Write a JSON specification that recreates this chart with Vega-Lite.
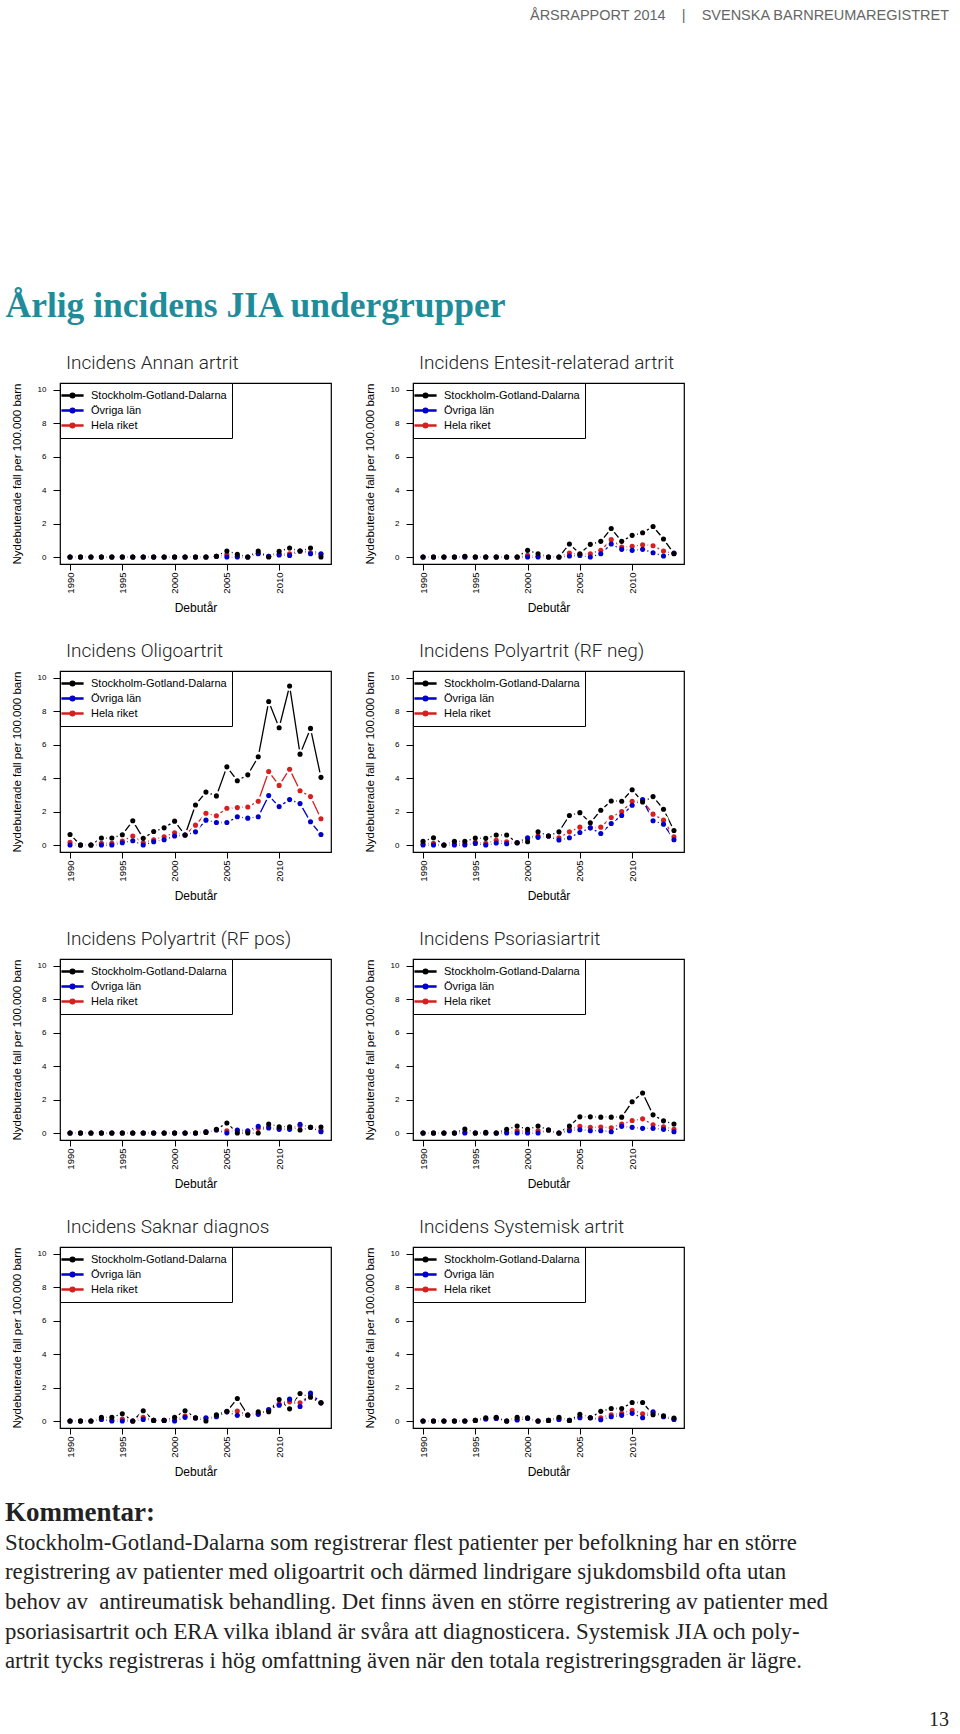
{
"$schema": "https://vega.github.io/schema/vega-lite/v6.json",
"background": "white",
"padding": {"left": 5, "top": 7, "right": 0, "bottom": 0},
"config": {
  "font": "Liberation Sans",
  "view": {"stroke": "black", "strokeWidth": 1.2},
  "axis": {"grid": false, "domain": false, "tickColor": "black", "labelColor": "black", "titleColor": "black", "titleFontWeight": "normal", "labelFont": "Liberation Sans", "titleFont": "Liberation Sans"},
  "axisX": {"labelAngle": 270, "labelFontSize": 9.5, "tickSize": 6, "labelPadding": 2, "titleFontSize": 12, "titlePadding": 9},
  "axisY": {"labelAngle": 0, "labelFontSize": 8, "tickSize": 7, "labelPadding": 7, "titleFontSize": 11.5, "titlePadding": 15},
  "legend": {"orient": "top-left", "offset": 0, "strokeColor": "black", "fillColor": "white", "padding": 5, "labelFontSize": 11, "labelFont": "Liberation Sans", "labelColor": "black", "symbolSize": 144, "symbolStrokeWidth": 2.5, "rowPadding": 0, "labelOffset": 11, "symbolOpacity": 1},
  "title": {"anchor": "start", "frame": "group", "font": "Roboto", "fontWeight": 300, "fontSize": 19, "color": "#222222", "dx": 6, "offset": 10},
  "concat": {"spacing": 31}
},
"datasets": {"d": [
{"p":"an","year":1990,"sgd":0,"ovr":0,"hela":0},{"p":"an","year":1991,"sgd":0,"ovr":0,"hela":0},{"p":"an","year":1992,"sgd":0,"ovr":0,"hela":0},{"p":"an","year":1993,"sgd":0,"ovr":0,"hela":0},{"p":"an","year":1994,"sgd":0,"ovr":0,"hela":0},{"p":"an","year":1995,"sgd":0,"ovr":0,"hela":0},{"p":"an","year":1996,"sgd":0,"ovr":0,"hela":0},{"p":"an","year":1997,"sgd":0,"ovr":0,"hela":0},{"p":"an","year":1998,"sgd":0,"ovr":0,"hela":0},{"p":"an","year":1999,"sgd":0,"ovr":0,"hela":0},{"p":"an","year":2000,"sgd":0,"ovr":0,"hela":0},{"p":"an","year":2001,"sgd":0,"ovr":0,"hela":0},{"p":"an","year":2002,"sgd":0,"ovr":0,"hela":0},{"p":"an","year":2003,"sgd":0,"ovr":0,"hela":0},{"p":"an","year":2004,"sgd":0.05,"ovr":0.05,"hela":0.05},{"p":"an","year":2005,"sgd":0.36,"ovr":0,"hela":0.15},{"p":"an","year":2006,"sgd":0.17,"ovr":0,"hela":0.05},{"p":"an","year":2007,"sgd":0,"ovr":0,"hela":0},{"p":"an","year":2008,"sgd":0.36,"ovr":0.2,"hela":0.22},{"p":"an","year":2009,"sgd":0,"ovr":0.05,"hela":0.04},{"p":"an","year":2010,"sgd":0.34,"ovr":0.13,"hela":0.18},{"p":"an","year":2011,"sgd":0.54,"ovr":0.1,"hela":0.2},{"p":"an","year":2012,"sgd":0.36,"ovr":0.36,"hela":0.36},{"p":"an","year":2013,"sgd":0.54,"ovr":0.2,"hela":0.25},{"p":"an","year":2014,"sgd":0,"ovr":0.2,"hela":0.15},
{"p":"en","year":1990,"sgd":0,"ovr":0,"hela":0},{"p":"en","year":1991,"sgd":0,"ovr":0,"hela":0},{"p":"en","year":1992,"sgd":0,"ovr":0,"hela":0},{"p":"en","year":1993,"sgd":0,"ovr":0,"hela":0},{"p":"en","year":1994,"sgd":0.05,"ovr":0,"hela":0.01},{"p":"en","year":1995,"sgd":0,"ovr":0,"hela":0},{"p":"en","year":1996,"sgd":0,"ovr":0,"hela":0},{"p":"en","year":1997,"sgd":0,"ovr":0,"hela":0},{"p":"en","year":1998,"sgd":0,"ovr":0,"hela":0},{"p":"en","year":1999,"sgd":0,"ovr":0,"hela":0},{"p":"en","year":2000,"sgd":0.4,"ovr":0,"hela":0.1},{"p":"en","year":2001,"sgd":0.2,"ovr":0,"hela":0.05},{"p":"en","year":2002,"sgd":0,"ovr":0,"hela":0},{"p":"en","year":2003,"sgd":0,"ovr":0,"hela":0},{"p":"en","year":2004,"sgd":0.78,"ovr":0.06,"hela":0.24},{"p":"en","year":2005,"sgd":0.2,"ovr":0.1,"hela":0.15},{"p":"en","year":2006,"sgd":0.76,"ovr":0,"hela":0.2},{"p":"en","year":2007,"sgd":0.94,"ovr":0.2,"hela":0.4},{"p":"en","year":2008,"sgd":1.71,"ovr":0.78,"hela":1.04},{"p":"en","year":2009,"sgd":0.94,"ovr":0.46,"hela":0.6},{"p":"en","year":2010,"sgd":1.3,"ovr":0.4,"hela":0.64},{"p":"en","year":2011,"sgd":1.45,"ovr":0.46,"hela":0.74},{"p":"en","year":2012,"sgd":1.83,"ovr":0.26,"hela":0.68},{"p":"en","year":2013,"sgd":1.08,"ovr":0.06,"hela":0.36},{"p":"en","year":2014,"sgd":0.2,"ovr":0.24,"hela":0.22},
{"p":"ol","year":1990,"sgd":0.63,"ovr":0,"hela":0.16},{"p":"ol","year":1991,"sgd":0,"ovr":0,"hela":0},{"p":"ol","year":1992,"sgd":0,"ovr":0,"hela":0},{"p":"ol","year":1993,"sgd":0.42,"ovr":0,"hela":0.1},{"p":"ol","year":1994,"sgd":0.42,"ovr":0,"hela":0.1},{"p":"ol","year":1995,"sgd":0.62,"ovr":0.14,"hela":0.24},{"p":"ol","year":1996,"sgd":1.45,"ovr":0.26,"hela":0.54},{"p":"ol","year":1997,"sgd":0.4,"ovr":0,"hela":0.14},{"p":"ol","year":1998,"sgd":0.81,"ovr":0.2,"hela":0.32},{"p":"ol","year":1999,"sgd":1.03,"ovr":0.32,"hela":0.5},{"p":"ol","year":2000,"sgd":1.43,"ovr":0.54,"hela":0.73},{"p":"ol","year":2001,"sgd":0.6,"ovr":0.6,"hela":0.6},{"p":"ol","year":2002,"sgd":2.4,"ovr":0.79,"hela":1.19},{"p":"ol","year":2003,"sgd":3.17,"ovr":1.49,"hela":1.9},{"p":"ol","year":2004,"sgd":2.94,"ovr":1.35,"hela":1.75},{"p":"ol","year":2005,"sgd":4.68,"ovr":1.35,"hela":2.2},{"p":"ol","year":2006,"sgd":3.85,"ovr":1.69,"hela":2.24},{"p":"ol","year":2007,"sgd":4.2,"ovr":1.61,"hela":2.28},{"p":"ol","year":2008,"sgd":5.28,"ovr":1.69,"hela":2.62},{"p":"ol","year":2009,"sgd":8.59,"ovr":2.96,"hela":4.4},{"p":"ol","year":2010,"sgd":7.02,"ovr":2.3,"hela":3.57},{"p":"ol","year":2011,"sgd":9.52,"ovr":2.72,"hela":4.54},{"p":"ol","year":2012,"sgd":5.44,"ovr":2.48,"hela":3.25},{"p":"ol","year":2013,"sgd":6.98,"ovr":1.39,"hela":2.9},{"p":"ol","year":2014,"sgd":4.05,"ovr":0.63,"hela":1.57},
{"p":"pn","year":1990,"sgd":0.22,"ovr":0,"hela":0.08},{"p":"pn","year":1991,"sgd":0.44,"ovr":0,"hela":0.1},{"p":"pn","year":1992,"sgd":0,"ovr":0,"hela":0},{"p":"pn","year":1993,"sgd":0.22,"ovr":0,"hela":0.08},{"p":"pn","year":1994,"sgd":0.22,"ovr":0,"hela":0.08},{"p":"pn","year":1995,"sgd":0.42,"ovr":0.1,"hela":0.16},{"p":"pn","year":1996,"sgd":0.4,"ovr":0,"hela":0.1},{"p":"pn","year":1997,"sgd":0.6,"ovr":0.12,"hela":0.28},{"p":"pn","year":1998,"sgd":0.6,"ovr":0.08,"hela":0.2},{"p":"pn","year":1999,"sgd":0.14,"ovr":0.14,"hela":0.14},{"p":"pn","year":2000,"sgd":0.2,"ovr":0.44,"hela":0.38},{"p":"pn","year":2001,"sgd":0.79,"ovr":0.46,"hela":0.54},{"p":"pn","year":2002,"sgd":0.54,"ovr":0.54,"hela":0.54},{"p":"pn","year":2003,"sgd":0.79,"ovr":0.3,"hela":0.44},{"p":"pn","year":2004,"sgd":1.77,"ovr":0.44,"hela":0.79},{"p":"pn","year":2005,"sgd":1.94,"ovr":0.75,"hela":1.07},{"p":"pn","year":2006,"sgd":1.33,"ovr":1.03,"hela":1.03},{"p":"pn","year":2007,"sgd":2.08,"ovr":0.69,"hela":1.07},{"p":"pn","year":2008,"sgd":2.64,"ovr":1.29,"hela":1.65},{"p":"pn","year":2009,"sgd":2.62,"ovr":1.77,"hela":2.0},{"p":"pn","year":2010,"sgd":3.31,"ovr":2.38,"hela":2.62},{"p":"pn","year":2011,"sgd":2.58,"ovr":2.72,"hela":2.66},{"p":"pn","year":2012,"sgd":2.9,"ovr":1.45,"hela":1.85},{"p":"pn","year":2013,"sgd":2.14,"ovr":1.25,"hela":1.49},{"p":"pn","year":2014,"sgd":0.87,"ovr":0.32,"hela":0.5},
{"p":"pp","year":1990,"sgd":0,"ovr":0,"hela":0},{"p":"pp","year":1991,"sgd":0,"ovr":0,"hela":0},{"p":"pp","year":1992,"sgd":0,"ovr":0,"hela":0},{"p":"pp","year":1993,"sgd":0,"ovr":0,"hela":0},{"p":"pp","year":1994,"sgd":0,"ovr":0,"hela":0},{"p":"pp","year":1995,"sgd":0,"ovr":0,"hela":0},{"p":"pp","year":1996,"sgd":0,"ovr":0,"hela":0},{"p":"pp","year":1997,"sgd":0,"ovr":0,"hela":0},{"p":"pp","year":1998,"sgd":0,"ovr":0,"hela":0},{"p":"pp","year":1999,"sgd":0,"ovr":0,"hela":0},{"p":"pp","year":2000,"sgd":0,"ovr":0,"hela":0},{"p":"pp","year":2001,"sgd":0,"ovr":0,"hela":0},{"p":"pp","year":2002,"sgd":0,"ovr":0,"hela":0},{"p":"pp","year":2003,"sgd":0.04,"ovr":0.08,"hela":0.07},{"p":"pp","year":2004,"sgd":0.22,"ovr":0.18,"hela":0.19},{"p":"pp","year":2005,"sgd":0.6,"ovr":0,"hela":0.14},{"p":"pp","year":2006,"sgd":0,"ovr":0.18,"hela":0.14},{"p":"pp","year":2007,"sgd":0,"ovr":0.14,"hela":0.1},{"p":"pp","year":2008,"sgd":0,"ovr":0.4,"hela":0.28},{"p":"pp","year":2009,"sgd":0.54,"ovr":0.3,"hela":0.38},{"p":"pp","year":2010,"sgd":0.38,"ovr":0.22,"hela":0.28},{"p":"pp","year":2011,"sgd":0.38,"ovr":0.22,"hela":0.28},{"p":"pp","year":2012,"sgd":0.18,"ovr":0.52,"hela":0.44},{"p":"pp","year":2013,"sgd":0.34,"ovr":0.34,"hela":0.34},{"p":"pp","year":2014,"sgd":0.36,"ovr":0.08,"hela":0.16},
{"p":"ps","year":1990,"sgd":0,"ovr":0,"hela":0},{"p":"ps","year":1991,"sgd":0,"ovr":0,"hela":0},{"p":"ps","year":1992,"sgd":0,"ovr":0,"hela":0},{"p":"ps","year":1993,"sgd":0,"ovr":0,"hela":0},{"p":"ps","year":1994,"sgd":0.24,"ovr":0,"hela":0.06},{"p":"ps","year":1995,"sgd":0,"ovr":0,"hela":0},{"p":"ps","year":1996,"sgd":0.04,"ovr":0,"hela":0.01},{"p":"ps","year":1997,"sgd":0,"ovr":0,"hela":0},{"p":"ps","year":1998,"sgd":0.22,"ovr":0,"hela":0.06},{"p":"ps","year":1999,"sgd":0.42,"ovr":0,"hela":0.14},{"p":"ps","year":2000,"sgd":0.22,"ovr":0,"hela":0.1},{"p":"ps","year":2001,"sgd":0.42,"ovr":0,"hela":0.14},{"p":"ps","year":2002,"sgd":0.18,"ovr":0.18,"hela":0.18},{"p":"ps","year":2003,"sgd":0,"ovr":0,"hela":0},{"p":"ps","year":2004,"sgd":0.42,"ovr":0.14,"hela":0.22},{"p":"ps","year":2005,"sgd":0.97,"ovr":0.2,"hela":0.4},{"p":"ps","year":2006,"sgd":0.97,"ovr":0.14,"hela":0.34},{"p":"ps","year":2007,"sgd":0.95,"ovr":0.14,"hela":0.36},{"p":"ps","year":2008,"sgd":0.95,"ovr":0.08,"hela":0.32},{"p":"ps","year":2009,"sgd":0.95,"ovr":0.4,"hela":0.54},{"p":"ps","year":2010,"sgd":1.87,"ovr":0.34,"hela":0.75},{"p":"ps","year":2011,"sgd":2.4,"ovr":0.28,"hela":0.85},{"p":"ps","year":2012,"sgd":1.09,"ovr":0.28,"hela":0.5},{"p":"ps","year":2013,"sgd":0.73,"ovr":0.22,"hela":0.38},{"p":"ps","year":2014,"sgd":0.54,"ovr":0.08,"hela":0.22},
{"p":"sa","year":1990,"sgd":0,"ovr":0,"hela":0},{"p":"sa","year":1991,"sgd":0,"ovr":0,"hela":0},{"p":"sa","year":1992,"sgd":0,"ovr":0,"hela":0},{"p":"sa","year":1993,"sgd":0.22,"ovr":0.1,"hela":0.12},{"p":"sa","year":1994,"sgd":0.22,"ovr":0,"hela":0.06},{"p":"sa","year":1995,"sgd":0.44,"ovr":0,"hela":0.12},{"p":"sa","year":1996,"sgd":0,"ovr":0,"hela":0},{"p":"sa","year":1997,"sgd":0.62,"ovr":0.1,"hela":0.22},{"p":"sa","year":1998,"sgd":0.04,"ovr":0.04,"hela":0.04},{"p":"sa","year":1999,"sgd":0.04,"ovr":0.04,"hela":0.04},{"p":"sa","year":2000,"sgd":0.22,"ovr":0,"hela":0.08},{"p":"sa","year":2001,"sgd":0.62,"ovr":0.22,"hela":0.3},{"p":"sa","year":2002,"sgd":0.2,"ovr":0.18,"hela":0.18},{"p":"sa","year":2003,"sgd":0,"ovr":0.2,"hela":0.15},{"p":"sa","year":2004,"sgd":0.38,"ovr":0.26,"hela":0.3},{"p":"sa","year":2005,"sgd":0.58,"ovr":0.55,"hela":0.55},{"p":"sa","year":2006,"sgd":1.35,"ovr":0.34,"hela":0.6},{"p":"sa","year":2007,"sgd":0.36,"ovr":0.36,"hela":0.36},{"p":"sa","year":2008,"sgd":0.56,"ovr":0.4,"hela":0.45},{"p":"sa","year":2009,"sgd":0.56,"ovr":0.69,"hela":0.65},{"p":"sa","year":2010,"sgd":1.29,"ovr":0.95,"hela":1.01},{"p":"sa","year":2011,"sgd":0.73,"ovr":1.31,"hela":1.15},{"p":"sa","year":2012,"sgd":1.65,"ovr":0.87,"hela":1.09},{"p":"sa","year":2013,"sgd":1.43,"ovr":1.67,"hela":1.57},{"p":"sa","year":2014,"sgd":1.09,"ovr":1.09,"hela":1.09},
{"p":"sy","year":1990,"sgd":0,"ovr":0,"hela":0},{"p":"sy","year":1991,"sgd":0,"ovr":0,"hela":0},{"p":"sy","year":1992,"sgd":0,"ovr":0,"hela":0},{"p":"sy","year":1993,"sgd":0,"ovr":0,"hela":0},{"p":"sy","year":1994,"sgd":0,"ovr":0,"hela":0},{"p":"sy","year":1995,"sgd":0.04,"ovr":0.04,"hela":0.04},{"p":"sy","year":1996,"sgd":0.2,"ovr":0.12,"hela":0.14},{"p":"sy","year":1997,"sgd":0.22,"ovr":0.16,"hela":0.18},{"p":"sy","year":1998,"sgd":0,"ovr":0,"hela":0},{"p":"sy","year":1999,"sgd":0.22,"ovr":0.06,"hela":0.1},{"p":"sy","year":2000,"sgd":0.2,"ovr":0.16,"hela":0.17},{"p":"sy","year":2001,"sgd":0,"ovr":0,"hela":0},{"p":"sy","year":2002,"sgd":0.04,"ovr":0.04,"hela":0.04},{"p":"sy","year":2003,"sgd":0.22,"ovr":0.1,"hela":0.13},{"p":"sy","year":2004,"sgd":0.04,"ovr":0.04,"hela":0.04},{"p":"sy","year":2005,"sgd":0.4,"ovr":0.2,"hela":0.25},{"p":"sy","year":2006,"sgd":0.2,"ovr":0.2,"hela":0.2},{"p":"sy","year":2007,"sgd":0.58,"ovr":0.08,"hela":0.2},{"p":"sy","year":2008,"sgd":0.75,"ovr":0.26,"hela":0.38},{"p":"sy","year":2009,"sgd":0.75,"ovr":0.34,"hela":0.46},{"p":"sy","year":2010,"sgd":1.11,"ovr":0.46,"hela":0.65},{"p":"sy","year":2011,"sgd":1.11,"ovr":0.2,"hela":0.44},{"p":"sy","year":2012,"sgd":0.38,"ovr":0.56,"hela":0.5},{"p":"sy","year":2013,"sgd":0.32,"ovr":0.26,"hela":0.28},{"p":"sy","year":2014,"sgd":0.18,"ovr":0.1,"hela":0.12}
]},
"spacing": 20,
"resolve": {"scale": {"color": "independent"}},
"vconcat": [
{
 "width": 889, "height": 246, "view": {"stroke": null},
 "data": {"values": []}, "mark": "point",
 "title": {"text": "ÅRSRAPPORT 2014\u00a0\u00a0\u00a0\u00a0|\u00a0\u00a0\u00a0\u00a0SVENSKA BARNREUMAREGISTRET", "anchor": "end", "frame": "group", "font": "Liberation Sans", "fontSize": 14.5, "fontWeight": "normal", "color": "#666666", "offset": 0, "dx": 0}
},
{
 "title": {"text": "Årlig incidens JIA undergrupper", "anchor": "start", "frame": "bounds", "font": "Liberation Serif", "fontWeight": "bold", "fontSize": 35.5, "color": "#1f8c9a", "dx": -5, "offset": 28},
 "spacing": 26,
 "resolve": {"scale": {"color": "independent"}},
 "vconcat": [
  {"resolve": {"scale": {"color": "independent"}}, "hconcat": [
   {"width": 271, "height": 181, "title": {"text": "Incidens Annan artrit"}, "data": {"name": "d"},
    "transform": [{"filter": "datum.p === 'an'"}, {"fold": ["hela", "ovr", "sgd"], "as": ["serie", "v"]}],
    "encoding": {"x": {"field": "year", "type": "quantitative", "scale": {"domain": [1989.04, 2014.96], "nice": false, "zero": false}, "axis": {"values": [1990, 1995, 2000, 2005, 2010], "format": "d", "title": "Debutår"}},
                 "y": {"field": "v", "type": "quantitative", "scale": {"domain": [-0.416, 10.416], "nice": false, "zero": false}, "axis": {"values": [0, 2, 4, 6, 8, 10], "title": "Nydebuterade fall per 100.000 barn"}}},
    "layer": [
     {"mark": {"type": "line", "strokeWidth": 1.3}, "encoding": {"color": {"field": "serie", "type": "nominal", "scale": {"domain": ["sgd", "ovr", "hela"], "range": ["#000000", "#0000CC", "#D81E1E"]}, "legend": {"title": null, "symbolType": "M-1.85,0L1.85,0M-0.3,0A0.3,0.3,0,1,0,0.3,0A0.3,0.3,0,1,0,-0.3,0Z", "labelExpr": "datum.label === 'sgd' ? 'Stockholm-Gotland-Dalarna' : datum.label === 'ovr' ? 'Övriga län' : 'Hela riket'"}}}},
     {"mark": {"type": "circle", "size": 100, "color": "white", "opacity": 1}},
     {"mark": {"type": "circle", "size": 26, "opacity": 1}, "encoding": {"color": {"field": "serie", "type": "nominal", "scale": {"domain": ["sgd", "ovr", "hela"], "range": ["#000000", "#0000CC", "#D81E1E"]}, "legend": {"title": null, "symbolType": "M-1.85,0L1.85,0M-0.3,0A0.3,0.3,0,1,0,0.3,0A0.3,0.3,0,1,0,-0.3,0Z", "labelExpr": "datum.label === 'sgd' ? 'Stockholm-Gotland-Dalarna' : datum.label === 'ovr' ? 'Övriga län' : 'Hela riket'"}}}}
    ]},
   {"width": 271, "height": 181, "title": {"text": "Incidens Entesit-relaterad artrit"}, "data": {"name": "d"},
    "transform": [{"filter": "datum.p === 'en'"}, {"fold": ["hela", "ovr", "sgd"], "as": ["serie", "v"]}],
    "encoding": {"x": {"field": "year", "type": "quantitative", "scale": {"domain": [1989.04, 2014.96], "nice": false, "zero": false}, "axis": {"values": [1990, 1995, 2000, 2005, 2010], "format": "d", "title": "Debutår"}},
                 "y": {"field": "v", "type": "quantitative", "scale": {"domain": [-0.416, 10.416], "nice": false, "zero": false}, "axis": {"values": [0, 2, 4, 6, 8, 10], "title": "Nydebuterade fall per 100.000 barn"}}},
    "layer": [
     {"mark": {"type": "line", "strokeWidth": 1.3}, "encoding": {"color": {"field": "serie", "type": "nominal", "scale": {"domain": ["sgd", "ovr", "hela"], "range": ["#000000", "#0000CC", "#D81E1E"]}, "legend": {"title": null, "symbolType": "M-1.85,0L1.85,0M-0.3,0A0.3,0.3,0,1,0,0.3,0A0.3,0.3,0,1,0,-0.3,0Z", "labelExpr": "datum.label === 'sgd' ? 'Stockholm-Gotland-Dalarna' : datum.label === 'ovr' ? 'Övriga län' : 'Hela riket'"}}}},
     {"mark": {"type": "circle", "size": 100, "color": "white", "opacity": 1}},
     {"mark": {"type": "circle", "size": 26, "opacity": 1}, "encoding": {"color": {"field": "serie", "type": "nominal", "scale": {"domain": ["sgd", "ovr", "hela"], "range": ["#000000", "#0000CC", "#D81E1E"]}, "legend": {"title": null, "symbolType": "M-1.85,0L1.85,0M-0.3,0A0.3,0.3,0,1,0,0.3,0A0.3,0.3,0,1,0,-0.3,0Z", "labelExpr": "datum.label === 'sgd' ? 'Stockholm-Gotland-Dalarna' : datum.label === 'ovr' ? 'Övriga län' : 'Hela riket'"}}}}
    ]}
  ]},
  {"resolve": {"scale": {"color": "independent"}}, "hconcat": [
   {"width": 271, "height": 181, "title": {"text": "Incidens Oligoartrit"}, "data": {"name": "d"},
    "transform": [{"filter": "datum.p === 'ol'"}, {"fold": ["hela", "ovr", "sgd"], "as": ["serie", "v"]}],
    "encoding": {"x": {"field": "year", "type": "quantitative", "scale": {"domain": [1989.04, 2014.96], "nice": false, "zero": false}, "axis": {"values": [1990, 1995, 2000, 2005, 2010], "format": "d", "title": "Debutår"}},
                 "y": {"field": "v", "type": "quantitative", "scale": {"domain": [-0.416, 10.416], "nice": false, "zero": false}, "axis": {"values": [0, 2, 4, 6, 8, 10], "title": "Nydebuterade fall per 100.000 barn"}}},
    "layer": [
     {"mark": {"type": "line", "strokeWidth": 1.3}, "encoding": {"color": {"field": "serie", "type": "nominal", "scale": {"domain": ["sgd", "ovr", "hela"], "range": ["#000000", "#0000CC", "#D81E1E"]}, "legend": {"title": null, "symbolType": "M-1.85,0L1.85,0M-0.3,0A0.3,0.3,0,1,0,0.3,0A0.3,0.3,0,1,0,-0.3,0Z", "labelExpr": "datum.label === 'sgd' ? 'Stockholm-Gotland-Dalarna' : datum.label === 'ovr' ? 'Övriga län' : 'Hela riket'"}}}},
     {"mark": {"type": "circle", "size": 100, "color": "white", "opacity": 1}},
     {"mark": {"type": "circle", "size": 26, "opacity": 1}, "encoding": {"color": {"field": "serie", "type": "nominal", "scale": {"domain": ["sgd", "ovr", "hela"], "range": ["#000000", "#0000CC", "#D81E1E"]}, "legend": {"title": null, "symbolType": "M-1.85,0L1.85,0M-0.3,0A0.3,0.3,0,1,0,0.3,0A0.3,0.3,0,1,0,-0.3,0Z", "labelExpr": "datum.label === 'sgd' ? 'Stockholm-Gotland-Dalarna' : datum.label === 'ovr' ? 'Övriga län' : 'Hela riket'"}}}}
    ]},
   {"width": 271, "height": 181, "title": {"text": "Incidens Polyartrit (RF neg)"}, "data": {"name": "d"},
    "transform": [{"filter": "datum.p === 'pn'"}, {"fold": ["hela", "ovr", "sgd"], "as": ["serie", "v"]}],
    "encoding": {"x": {"field": "year", "type": "quantitative", "scale": {"domain": [1989.04, 2014.96], "nice": false, "zero": false}, "axis": {"values": [1990, 1995, 2000, 2005, 2010], "format": "d", "title": "Debutår"}},
                 "y": {"field": "v", "type": "quantitative", "scale": {"domain": [-0.416, 10.416], "nice": false, "zero": false}, "axis": {"values": [0, 2, 4, 6, 8, 10], "title": "Nydebuterade fall per 100.000 barn"}}},
    "layer": [
     {"mark": {"type": "line", "strokeWidth": 1.3}, "encoding": {"color": {"field": "serie", "type": "nominal", "scale": {"domain": ["sgd", "ovr", "hela"], "range": ["#000000", "#0000CC", "#D81E1E"]}, "legend": {"title": null, "symbolType": "M-1.85,0L1.85,0M-0.3,0A0.3,0.3,0,1,0,0.3,0A0.3,0.3,0,1,0,-0.3,0Z", "labelExpr": "datum.label === 'sgd' ? 'Stockholm-Gotland-Dalarna' : datum.label === 'ovr' ? 'Övriga län' : 'Hela riket'"}}}},
     {"mark": {"type": "circle", "size": 100, "color": "white", "opacity": 1}},
     {"mark": {"type": "circle", "size": 26, "opacity": 1}, "encoding": {"color": {"field": "serie", "type": "nominal", "scale": {"domain": ["sgd", "ovr", "hela"], "range": ["#000000", "#0000CC", "#D81E1E"]}, "legend": {"title": null, "symbolType": "M-1.85,0L1.85,0M-0.3,0A0.3,0.3,0,1,0,0.3,0A0.3,0.3,0,1,0,-0.3,0Z", "labelExpr": "datum.label === 'sgd' ? 'Stockholm-Gotland-Dalarna' : datum.label === 'ovr' ? 'Övriga län' : 'Hela riket'"}}}}
    ]}
  ]},
  {"resolve": {"scale": {"color": "independent"}}, "hconcat": [
   {"width": 271, "height": 181, "title": {"text": "Incidens Polyartrit (RF pos)"}, "data": {"name": "d"},
    "transform": [{"filter": "datum.p === 'pp'"}, {"fold": ["hela", "ovr", "sgd"], "as": ["serie", "v"]}],
    "encoding": {"x": {"field": "year", "type": "quantitative", "scale": {"domain": [1989.04, 2014.96], "nice": false, "zero": false}, "axis": {"values": [1990, 1995, 2000, 2005, 2010], "format": "d", "title": "Debutår"}},
                 "y": {"field": "v", "type": "quantitative", "scale": {"domain": [-0.416, 10.416], "nice": false, "zero": false}, "axis": {"values": [0, 2, 4, 6, 8, 10], "title": "Nydebuterade fall per 100.000 barn"}}},
    "layer": [
     {"mark": {"type": "line", "strokeWidth": 1.3}, "encoding": {"color": {"field": "serie", "type": "nominal", "scale": {"domain": ["sgd", "ovr", "hela"], "range": ["#000000", "#0000CC", "#D81E1E"]}, "legend": {"title": null, "symbolType": "M-1.85,0L1.85,0M-0.3,0A0.3,0.3,0,1,0,0.3,0A0.3,0.3,0,1,0,-0.3,0Z", "labelExpr": "datum.label === 'sgd' ? 'Stockholm-Gotland-Dalarna' : datum.label === 'ovr' ? 'Övriga län' : 'Hela riket'"}}}},
     {"mark": {"type": "circle", "size": 100, "color": "white", "opacity": 1}},
     {"mark": {"type": "circle", "size": 26, "opacity": 1}, "encoding": {"color": {"field": "serie", "type": "nominal", "scale": {"domain": ["sgd", "ovr", "hela"], "range": ["#000000", "#0000CC", "#D81E1E"]}, "legend": {"title": null, "symbolType": "M-1.85,0L1.85,0M-0.3,0A0.3,0.3,0,1,0,0.3,0A0.3,0.3,0,1,0,-0.3,0Z", "labelExpr": "datum.label === 'sgd' ? 'Stockholm-Gotland-Dalarna' : datum.label === 'ovr' ? 'Övriga län' : 'Hela riket'"}}}}
    ]},
   {"width": 271, "height": 181, "title": {"text": "Incidens Psoriasiartrit"}, "data": {"name": "d"},
    "transform": [{"filter": "datum.p === 'ps'"}, {"fold": ["hela", "ovr", "sgd"], "as": ["serie", "v"]}],
    "encoding": {"x": {"field": "year", "type": "quantitative", "scale": {"domain": [1989.04, 2014.96], "nice": false, "zero": false}, "axis": {"values": [1990, 1995, 2000, 2005, 2010], "format": "d", "title": "Debutår"}},
                 "y": {"field": "v", "type": "quantitative", "scale": {"domain": [-0.416, 10.416], "nice": false, "zero": false}, "axis": {"values": [0, 2, 4, 6, 8, 10], "title": "Nydebuterade fall per 100.000 barn"}}},
    "layer": [
     {"mark": {"type": "line", "strokeWidth": 1.3}, "encoding": {"color": {"field": "serie", "type": "nominal", "scale": {"domain": ["sgd", "ovr", "hela"], "range": ["#000000", "#0000CC", "#D81E1E"]}, "legend": {"title": null, "symbolType": "M-1.85,0L1.85,0M-0.3,0A0.3,0.3,0,1,0,0.3,0A0.3,0.3,0,1,0,-0.3,0Z", "labelExpr": "datum.label === 'sgd' ? 'Stockholm-Gotland-Dalarna' : datum.label === 'ovr' ? 'Övriga län' : 'Hela riket'"}}}},
     {"mark": {"type": "circle", "size": 100, "color": "white", "opacity": 1}},
     {"mark": {"type": "circle", "size": 26, "opacity": 1}, "encoding": {"color": {"field": "serie", "type": "nominal", "scale": {"domain": ["sgd", "ovr", "hela"], "range": ["#000000", "#0000CC", "#D81E1E"]}, "legend": {"title": null, "symbolType": "M-1.85,0L1.85,0M-0.3,0A0.3,0.3,0,1,0,0.3,0A0.3,0.3,0,1,0,-0.3,0Z", "labelExpr": "datum.label === 'sgd' ? 'Stockholm-Gotland-Dalarna' : datum.label === 'ovr' ? 'Övriga län' : 'Hela riket'"}}}}
    ]}
  ]},
  {"resolve": {"scale": {"color": "independent"}}, "hconcat": [
   {"width": 271, "height": 181, "title": {"text": "Incidens Saknar diagnos"}, "data": {"name": "d"},
    "transform": [{"filter": "datum.p === 'sa'"}, {"fold": ["hela", "ovr", "sgd"], "as": ["serie", "v"]}],
    "encoding": {"x": {"field": "year", "type": "quantitative", "scale": {"domain": [1989.04, 2014.96], "nice": false, "zero": false}, "axis": {"values": [1990, 1995, 2000, 2005, 2010], "format": "d", "title": "Debutår"}},
                 "y": {"field": "v", "type": "quantitative", "scale": {"domain": [-0.416, 10.416], "nice": false, "zero": false}, "axis": {"values": [0, 2, 4, 6, 8, 10], "title": "Nydebuterade fall per 100.000 barn"}}},
    "layer": [
     {"mark": {"type": "line", "strokeWidth": 1.3}, "encoding": {"color": {"field": "serie", "type": "nominal", "scale": {"domain": ["sgd", "ovr", "hela"], "range": ["#000000", "#0000CC", "#D81E1E"]}, "legend": {"title": null, "symbolType": "M-1.85,0L1.85,0M-0.3,0A0.3,0.3,0,1,0,0.3,0A0.3,0.3,0,1,0,-0.3,0Z", "labelExpr": "datum.label === 'sgd' ? 'Stockholm-Gotland-Dalarna' : datum.label === 'ovr' ? 'Övriga län' : 'Hela riket'"}}}},
     {"mark": {"type": "circle", "size": 100, "color": "white", "opacity": 1}},
     {"mark": {"type": "circle", "size": 26, "opacity": 1}, "encoding": {"color": {"field": "serie", "type": "nominal", "scale": {"domain": ["sgd", "ovr", "hela"], "range": ["#000000", "#0000CC", "#D81E1E"]}, "legend": {"title": null, "symbolType": "M-1.85,0L1.85,0M-0.3,0A0.3,0.3,0,1,0,0.3,0A0.3,0.3,0,1,0,-0.3,0Z", "labelExpr": "datum.label === 'sgd' ? 'Stockholm-Gotland-Dalarna' : datum.label === 'ovr' ? 'Övriga län' : 'Hela riket'"}}}}
    ]},
   {"width": 271, "height": 181, "title": {"text": "Incidens Systemisk artrit"}, "data": {"name": "d"},
    "transform": [{"filter": "datum.p === 'sy'"}, {"fold": ["hela", "ovr", "sgd"], "as": ["serie", "v"]}],
    "encoding": {"x": {"field": "year", "type": "quantitative", "scale": {"domain": [1989.04, 2014.96], "nice": false, "zero": false}, "axis": {"values": [1990, 1995, 2000, 2005, 2010], "format": "d", "title": "Debutår"}},
                 "y": {"field": "v", "type": "quantitative", "scale": {"domain": [-0.416, 10.416], "nice": false, "zero": false}, "axis": {"values": [0, 2, 4, 6, 8, 10], "title": "Nydebuterade fall per 100.000 barn"}}},
    "layer": [
     {"mark": {"type": "line", "strokeWidth": 1.3}, "encoding": {"color": {"field": "serie", "type": "nominal", "scale": {"domain": ["sgd", "ovr", "hela"], "range": ["#000000", "#0000CC", "#D81E1E"]}, "legend": {"title": null, "symbolType": "M-1.85,0L1.85,0M-0.3,0A0.3,0.3,0,1,0,0.3,0A0.3,0.3,0,1,0,-0.3,0Z", "labelExpr": "datum.label === 'sgd' ? 'Stockholm-Gotland-Dalarna' : datum.label === 'ovr' ? 'Övriga län' : 'Hela riket'"}}}},
     {"mark": {"type": "circle", "size": 100, "color": "white", "opacity": 1}},
     {"mark": {"type": "circle", "size": 26, "opacity": 1}, "encoding": {"color": {"field": "serie", "type": "nominal", "scale": {"domain": ["sgd", "ovr", "hela"], "range": ["#000000", "#0000CC", "#D81E1E"]}, "legend": {"title": null, "symbolType": "M-1.85,0L1.85,0M-0.3,0A0.3,0.3,0,1,0,0.3,0A0.3,0.3,0,1,0,-0.3,0Z", "labelExpr": "datum.label === 'sgd' ? 'Stockholm-Gotland-Dalarna' : datum.label === 'ovr' ? 'Övriga län' : 'Hela riket'"}}}}
    ]}
  ]}
 ]
},
{
 "width": 889, "height": 4, "view": {"stroke": null},
 "data": {"values": []}, "mark": "point",
 "title": {"text": "Kommentar:", "subtitle": ["Stockholm-Gotland-Dalarna som registrerar flest patienter per befolkning har en större", "registrering av patienter med oligoartrit och därmed lindrigare sjukdomsbild ofta utan", "behov av\u00a0 antireumatisk behandling. Det finns även en större registrering av patienter med", "psoriasisartrit och ERA vilka ibland är svåra att diagnosticera. Systemisk JIA och poly-", "artrit tycks registreras i hög omfattning även när den totala registreringsgraden är lägre."], "anchor": "start", "frame": "group", "dx": -55, "font": "Liberation Serif", "fontWeight": "bold", "fontSize": 27, "color": "#222222", "subtitleFont": "Liberation Serif", "subtitleFontSize": 22.8, "subtitleColor": "#222222", "subtitleLineHeight": 29.6, "subtitlePadding": 5, "offset": 12}
},
{
 "width": 889, "height": 1, "view": {"stroke": null},
 "data": {"values": []}, "mark": "point",
 "title": {"text": "13", "anchor": "end", "frame": "group", "dx": 0, "font": "Liberation Serif", "fontWeight": "normal", "fontSize": 20, "color": "#222222", "offset": 0}
}
]
}
